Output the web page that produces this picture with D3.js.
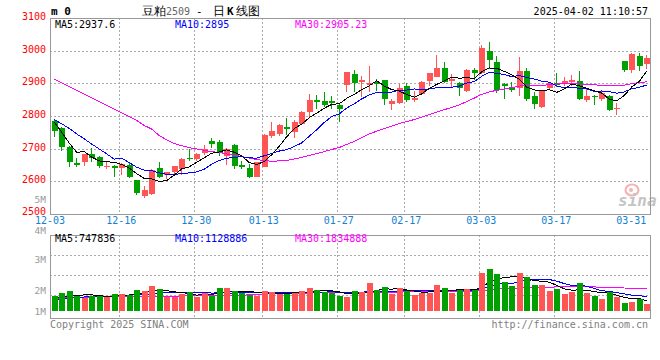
<!DOCTYPE html>
<html><head><meta charset="utf-8">
<script src="https://cdn.jsdelivr.net/npm/d3@7/dist/d3.min.js"></script>
<style>
html,body{margin:0;padding:0;background:#fff;}
svg{display:block;}
text{font-family:"DejaVu Sans Mono",monospace;}
</style></head>
<body>
<svg id="chart" width="660" height="360"></svg>
<script>
// ---------------- data ----------------
const dates = ["12-03","12-04","12-05","12-06","12-09","12-10","12-11","12-12","12-13","12-16","12-17","12-18","12-19","12-20","12-23","12-24","12-25","12-26","12-27","12-30","12-31",
"01-02","01-03","01-06","01-07","01-08","01-09","01-10","01-13","01-14","01-15","01-16","01-17","01-20","01-21","01-22","01-23","01-24","01-27",
"02-05","02-06","02-07","02-10","02-11","02-12","02-13","02-14","02-17","02-18","02-19","02-20","02-21","02-24","02-25","02-26","02-27","02-28",
"03-03","03-04","03-05","03-06","03-07","03-10","03-11","03-12","03-13","03-14","03-17","03-18","03-19","03-20","03-21","03-24","03-25","03-26","03-27","03-28","03-31",
"04-01","04-02"];
const open  = [2785,2763,2705,2655,2659,2683,2673,2645,2647,2641,2651,2604,2556,2561,2641,2619,2628,2638,2672,2667,2687,2722,2719,2679,2711,2649,2641,2614,2645,2738,2744,2765,2752,2776,2813,2850,2847,2846,2834,2895,2928,2903,2898,2903,2909,2838,2840,2892,2850,2867,2907,2920,2946,2906,2901,2876,2942,2931,3000,2966,2898,2890,2886,2939,2862,2827,2885,2901,2898,2904,2906,2849,2861,2852,2862,2822,2969,2941,2985,2959];
const high  = [2791,2766,2707,2671,2684,2701,2679,2661,2650,2656,2656,2604,2587,2638,2658,2628,2648,2671,2699,2686,2712,2732,2728,2701,2713,2663,2653,2660,2744,2781,2775,2793,2789,2815,2866,2865,2872,2862,2838,2936,2942,2923,2952,2914,2909,2852,2897,2900,2877,2906,2931,2987,2964,2928,2905,2943,2946,3017,3026,2983,2901,2903,2980,2946,2875,2879,2903,2932,2918,2926,2937,2883,2864,2877,2864,2839,2969,2993,2993,2986];
const low   = [2736,2694,2645,2645,2648,2658,2640,2638,2613,2619,2610,2559,2549,2558,2609,2607,2620,2620,2663,2663,2681,2701,2677,2651,2638,2638,2610,2612,2643,2733,2740,2742,2733,2771,2798,2821,2827,2822,2782,2873,2873,2857,2873,2878,2834,2818,2837,2842,2844,2864,2893,2918,2901,2888,2860,2872,2911,2928,2943,2870,2852,2875,2860,2847,2821,2825,2881,2888,2891,2891,2850,2844,2835,2846,2814,2803,2936,2932,2938,2944];
const close = [2755,2705,2659,2652,2683,2671,2647,2647,2642,2653,2613,2563,2572,2636,2613,2628,2646,2668,2667,2683,2698,2715,2687,2699,2646,2643,2613,2658,2741,2753,2772,2759,2781,2812,2850,2843,2833,2840,2821,2934,2900,2909,2900,2898,2852,2846,2885,2849,2855,2903,2931,2946,2903,2913,2885,2940,2932,3007,2971,2880,2893,2881,2937,2852,2837,2877,2900,2895,2906,2910,2852,2862,2858,2869,2818,2826,2942,2990,2952,2978];
const volume = [1300000,1570000,1740000,1300000,1100000,1300000,1300000,1250000,1480000,1480000,1390000,1830000,1740000,2170000,1910000,1250000,1250000,1480000,1650000,1250000,1570000,1300000,2000000,2000000,1740000,1570000,1390000,1300000,1740000,1650000,1480000,1480000,1570000,1740000,2000000,1830000,1650000,1540000,1300000,1220000,1740000,1650000,2430000,1830000,2090000,1480000,2000000,1740000,1390000,1570000,1570000,2260000,2000000,1570000,1830000,1910000,1830000,3300000,3650000,3220000,2520000,2170000,3300000,2960000,2260000,2260000,1740000,1910000,1480000,1650000,2430000,1570000,1300000,1040000,1650000,1220000,700000,780000,1040000,610000];
// moving-average values before enough history exists
const ma5Lead  = [2781,2750,2717,2689];
const ma10Lead = [2789,2776,2762,2745,2730,2714,2699,2684,2668];
const ma30Lead = [2913,2901,2890,2878,2867,2855,2844,2832,2821,2809,2798,2786,2771,2760,2740,2727,2716,2709,2703,2699,2695,2691,2688,2684,2680,2676,2671,2667,2663];
const vma5Lead  = [1100000,1200000,1300000,1320000];
const vma10Lead = [960000,1050000,1120000,1180000,1220000,1250000,1270000,1280000,1300000];
const vma30Lead = [1100000,1130000,1160000,1190000,1210000,1220000,1220000,1220000,1230000,1230000,1240000,1240000,1250000,1260000,1270000,1280000,1290000,1300000,1310000,1320000,1330000,1340000,1350000,1360000,1370000,1380000,1400000,1420000,1450000];
const priceTicks = [3100,3000,2900,2800,2700,2600,2500];
const volTickLabels = ["5M","4M","3M","2M","1M"];
const volTickValues = [5,4,3,2,1];
const xLabelDates = ["12-03","12-16","12-30","01-13","01-27","02-17","03-03","03-17","03-31"];
const titleParts = ["豆粕","2509","-","日","K","线图"];
const stamp = "2025-04-02 11:10:57";
const maTexts = ["MA5:2937.6","MA10:2895","MA30:2905.23"];
const vmaTexts = ["MA5:747836","MA10:1128886","MA30:1834888"];

// ---------------- helpers ----------------
function movingAvg(arr, n, lead){
  return arr.map((v,i)=> i < n-1 ? lead[i] : d3.mean(arr.slice(i-n+1,i+1)));
}
const RED="#ff5555", GREEN="#00a000", GRID="#aaaaaa", FRAME="#999999";
const svg = d3.select("#chart");
const L=50, R=650, PT=18, PB=214, VT=235, VB=318, VBASE=311;

const x = d3.scaleBand().domain(dates).range([L,R]).paddingInner(0.2).paddingOuter(0.1);
const cx = d => x(d) + x.bandwidth()/2;
const y = d3.scaleLinear().domain([2500,3100]).range([PB,PT]);
const yv = d3.scaleLinear().domain([0,6.6e6]).range([VBASE,VBASE-6.6*11.5]);
const yvLab = d3.scaleLinear().domain([2,5]).range([290,199]);

const data = dates.map((d,i)=>({d,o:open[i],h:high[i],l:low[i],c:close[i],v:volume[i]}));

// ---------------- grids ----------------
const gridDates = xLabelDates.slice(1, xLabelDates.length-1);
const g = svg.append("g").attr("shape-rendering","crispEdges");
g.selectAll(".hg").data(priceTicks.slice(1,-1)).join("line")
  .attr("x1",L).attr("x2",R).attr("y1",d=>Math.round(y(d))+0.5).attr("y2",d=>Math.round(y(d))+0.5)
  .attr("stroke",GRID).attr("stroke-dasharray","2,2");
g.selectAll(".vg").data(gridDates).join("line")
  .attr("x1",d=>Math.round(cx(d))-1.5).attr("x2",d=>Math.round(cx(d))-1.5).attr("y1",PT).attr("y2",PB)
  .attr("stroke",GRID).attr("stroke-dasharray","2,2");
const vgY = [255,275,295];
g.selectAll(".vhg").data(vgY).join("line")
  .attr("x1",L).attr("x2",R).attr("y1",d=>d+0.5).attr("y2",d=>d+0.5)
  .attr("stroke",GRID).attr("stroke-dasharray","2,2");
g.selectAll(".vvg").data(gridDates).join("line")
  .attr("x1",d=>Math.round(cx(d))-1.5).attr("x2",d=>Math.round(cx(d))-1.5).attr("y1",VT).attr("y2",VB)
  .attr("stroke",GRID).attr("stroke-dasharray","2,2");

// watermark
const wm = svg.append("g");
wm.append("ellipse").attr("cx",632).attr("cy",190).attr("rx",6.5).attr("ry",5.5).attr("fill","none").attr("stroke","#f2b4b4").attr("stroke-width",2.2);
wm.append("circle").attr("cx",631).attr("cy",190).attr("r",2).attr("fill","#f2b4b4");
wm.append("text").attr("x",618).attr("y",206).attr("font-family","DejaVu Sans").attr("font-style","italic").attr("font-weight","bold")
  .attr("font-size",16).attr("fill","#c4c4c4").text("sina");

// ---------------- candles ----------------
const cg = svg.append("g").attr("shape-rendering","crispEdges");
const col = d => d.c >= d.o ? RED : GREEN;
cg.selectAll(".wick").data(data).join("line")
  .attr("x1",d=>Math.round(cx(d.d))+0.5).attr("x2",d=>Math.round(cx(d.d))+0.5)
  .attr("y1",d=>y(d.h)).attr("y2",d=>y(d.l)).attr("stroke",col);
cg.selectAll(".body").data(data).join("rect")
  .attr("x",d=>Math.round(cx(d.d))-2.5).attr("width",6)
  .attr("y",d=>y(Math.max(d.o,d.c)))
  .attr("height",d=>Math.max(1.2,Math.abs(y(d.o)-y(d.c))))
  .attr("fill",col);

// ---------------- MA lines ----------------
const ma5 = movingAvg(close,5,ma5Lead), ma10 = movingAvg(close,10,ma10Lead), ma30 = movingAvg(close,30,ma30Lead);
const line = d3.line().x((v,i)=>cx(dates[i])+0.5).y(v=>y(v));
const mg = svg.append("g").attr("fill","none").attr("stroke-width",1).attr("shape-rendering","crispEdges");
mg.append("path").attr("d",line(ma30)).attr("stroke","#ff00ff");
mg.append("path").attr("d",line(ma10)).attr("stroke","#0000ff");
mg.append("path").attr("d",line(ma5)).attr("stroke","#000000");

// ---------------- volume ----------------
const vg = svg.append("g").attr("shape-rendering","crispEdges");
vg.selectAll(".vbar").data(data).join("rect")
  .attr("x",d=>Math.round(cx(d.d))-2.5).attr("width",6)
  .attr("y",d=>yv(d.v)).attr("height",d=>VBASE-yv(d.v)).attr("fill",col);
const vma5 = movingAvg(volume,5,vma5Lead), vma10 = movingAvg(volume,10,vma10Lead), vma30 = movingAvg(volume,30,vma30Lead);
const vline = d3.line().x((v,i)=>cx(dates[i])+0.5).y(v=>yv(v));
mg.append("path").attr("d",vline(vma30)).attr("stroke","#ff00ff");
mg.append("path").attr("d",vline(vma10)).attr("stroke","#0000ff");
mg.append("path").attr("d",vline(vma5)).attr("stroke","#000000");

// ---------------- frames ----------------
const fg = svg.append("g").attr("shape-rendering","crispEdges").attr("fill","none").attr("stroke",FRAME);
fg.append("rect").attr("x",L+0.5).attr("y",PT+0.5).attr("width",R-L).attr("height",PB-PT);
fg.append("rect").attr("x",L+0.5).attr("y",VT+0.5).attr("width",R-L).attr("height",VB-VT);

// ---------------- texts ----------------
const T = svg.append("g").attr("font-size",10);
T.selectAll(".py").data(priceTicks).join("text")
  .attr("x",46).attr("y",d=>y(d)+(d===2500?1:2)).attr("text-anchor","end").attr("fill","#ff0000").text(d=>d);
T.selectAll(".vy").data(volTickValues).join("text")
  .attr("x",46).attr("y",(d)=>Math.min(yvLab(d),311)+(d===4?5:3.5)).attr("font-size",9.5).attr("text-anchor","end").attr("fill","#999999")
  .text((d,i)=>volTickLabels[i]);
T.selectAll(".xl").data(xLabelDates).join("text")
  .attr("x",(d,i)=>{ if(i===0) return L; const c=cx(d); return Math.min(c, R-15); })
  .attr("y",224).attr("text-anchor","middle").attr("fill","#1480d0").text(d=>d);
const maCols = ["#000000","#0000ff","#ff00ff"], maX=[55,175,295];
T.selectAll(".mat").data(maTexts).join("text").attr("x",(d,i)=>maX[i]).attr("y",28).attr("fill",(d,i)=>maCols[i]).text(d=>d);
T.selectAll(".vmat").data(vmaTexts).join("text").attr("x",(d,i)=>maX[i]).attr("y",242).attr("fill",(d,i)=>maCols[i]).text(d=>d);
T.append("text").attr("x",50).attr("y",328).attr("fill","#808080").text("Copyright 2025 SINA.COM");
T.append("text").attr("x",648).attr("y",328).attr("text-anchor","end").attr("fill","#808080").text("http://finance.sina.com.cn");
T.append("text").attr("x",648).attr("y",15).attr("text-anchor","end").attr("fill","#000").text(stamp);
T.append("text").attr("x",51).attr("y",15).attr("font-weight","bold").attr("font-size",11).attr("fill","#000").text("m 0");
// title pieces
const tX = [142,166,196,213,227,236];
const tFont = ["Noto Sans CJK SC","DejaVu Sans","DejaVu Sans","Noto Sans CJK SC","DejaVu Sans","Noto Sans CJK SC"];
const tSize = [12,10,11,12,11,12];
const tFill = ["#000","#666","#000","#000","#000","#000"];
const tWeight = ["normal","normal","normal","normal","bold","normal"];
svg.selectAll(".title").data(titleParts).join("text")
  .attr("x",(d,i)=>tX[i]).attr("y",15).attr("font-family",(d,i)=>tFont[i]).attr("font-size",(d,i)=>tSize[i])
  .attr("font-weight",(d,i)=>tWeight[i]).attr("fill",(d,i)=>tFill[i]).text(d=>d);
</script>
</body></html>
